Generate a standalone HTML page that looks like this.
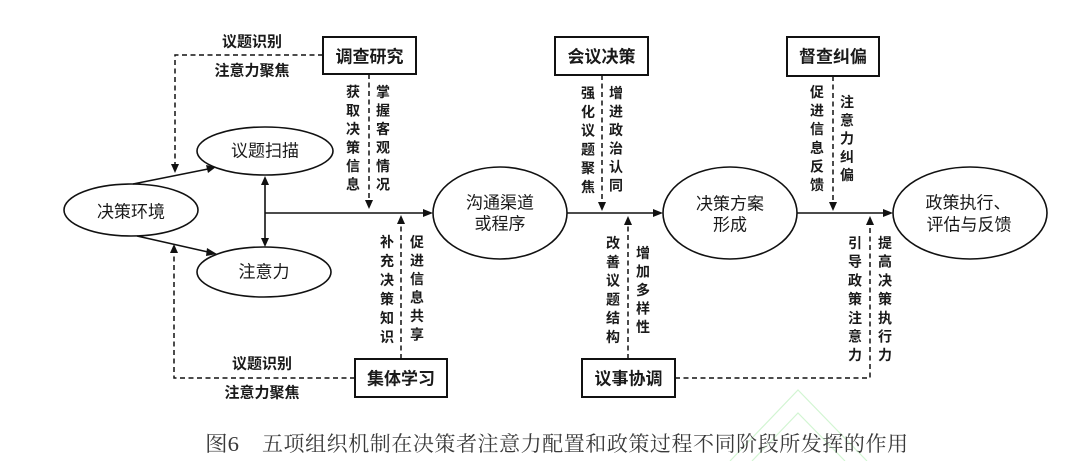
<!DOCTYPE html>
<html>
<head>
<meta charset="utf-8">
<style>
  html,body{margin:0;padding:0;background:#fff;}
  svg{display:block;}
  .t{font-family:"Liberation Sans","Noto Sans CJK SC",sans-serif;fill:#1a1a1a;}
  .e{font-size:17px;}
  .b{font-size:17px;font-weight:bold;}
  .s{font-size:14px;font-weight:bold;}
  .cap{font-family:"Liberation Serif","Noto Serif CJK SC",serif;font-size:21px;fill:#3a3a3a;}
</style>
</head>
<body>
<svg width="1080" height="461" viewBox="0 0 1080 461" xmlns="http://www.w3.org/2000/svg">
  <rect width="1080" height="461" fill="#fff"/>

  <!-- faint watermark -->
  <g stroke="#d2f5d2" stroke-width="1.2" fill="none">
    <polyline points="730,461 798,390 867,461"/>
    <polyline points="752,461 798,413 845,461"/>
  </g>

  <!-- ellipses -->
  <g fill="none" stroke="#111" stroke-width="1.6">
    <ellipse cx="131" cy="210" rx="67" ry="26"/>
    <ellipse cx="265" cy="151" rx="68" ry="24"/>
    <ellipse cx="264" cy="272" rx="67" ry="25"/>
    <ellipse cx="500" cy="213" rx="67" ry="46"/>
    <ellipse cx="730" cy="213" rx="67" ry="46"/>
    <ellipse cx="970" cy="213" rx="77" ry="46"/>
  </g>

  <!-- boxes -->
  <g fill="#fff" stroke="#111" stroke-width="2">
    <rect x="323" y="37" width="93" height="37"/>
    <rect x="555" y="37" width="93" height="38"/>
    <rect x="787" y="37" width="92" height="39"/>
    <rect x="355" y="359" width="92" height="38"/>
    <rect x="582" y="359" width="93" height="38"/>
  </g>

  <!-- solid lines -->
  <g stroke="#111" stroke-width="1.6" fill="none">
    <line x1="133" y1="184" x2="208" y2="169"/>
    <line x1="137" y1="236" x2="208" y2="252"/>
    <line x1="265" y1="184" x2="265" y2="239"/>
    <line x1="265" y1="213" x2="424" y2="213"/>
    <line x1="567" y1="213" x2="654" y2="213"/>
    <line x1="797" y1="213" x2="884" y2="213"/>
  </g>
  <g fill="#111">
    <polygon points="216,167 206,165 208,173"/>
    <polygon points="217,254 207,248 206,256"/>
    <polygon points="265,176 261,185 269,185"/>
    <polygon points="265,247 261,238 269,238"/>
    <polygon points="433,213 423,209 423,217"/>
    <polygon points="663,213 653,209 653,217"/>
    <polygon points="893,213 883,209 883,217"/>
  </g>

  <!-- dashed lines -->
  <g stroke="#111" stroke-width="1.5" fill="none" stroke-dasharray="5,3.5">
    <polyline points="323,55 175,55 175,165"/>
    <polyline points="355,378 174,378 174,252"/>
    <line x1="369" y1="74" x2="369" y2="201"/>
    <line x1="401" y1="359" x2="401" y2="223"/>
    <line x1="602" y1="75" x2="602" y2="203"/>
    <line x1="628" y1="359" x2="628" y2="224"/>
    <line x1="833" y1="76" x2="833" y2="203"/>
    <polyline points="675,378 870,378 870,224"/>
  </g>
  <g fill="#111">
    <polygon points="175,173 171,164 179,164"/>
    <polygon points="174,244 170,253 178,253"/>
    <polygon points="369,209 365,200 373,200"/>
    <polygon points="401,215 397,224 405,224"/>
    <polygon points="602,211 598,202 606,202"/>
    <polygon points="628,216 624,225 632,225"/>
    <polygon points="833,211 829,202 837,202"/>
    <polygon points="870,216 866,225 874,225"/>
  </g>

  <!-- ellipse labels -->
  <g class="t e" text-anchor="middle" dominant-baseline="central">
    <text x="131" y="212">决策环境</text>
    <text x="265" y="151">议题扫描</text>
    <text x="264" y="272">注意力</text>
    <text x="500" y="203">沟通渠道</text>
    <text x="500" y="224">或程序</text>
    <text x="730" y="204">决策方案</text>
    <text x="730" y="225">形成</text>
    <text x="968" y="203">政策执行、</text>
    <text x="969" y="225">评估与反馈</text>
  </g>

  <!-- box labels -->
  <g class="t b" text-anchor="middle" dominant-baseline="central">
    <text x="369.5" y="57">调查研究</text>
    <text x="601.5" y="57">会议决策</text>
    <text x="833" y="57">督查纠偏</text>
    <text x="401" y="379">集体学习</text>
    <text x="628.5" y="379">议事协调</text>
  </g>

  <!-- horizontal edge labels -->
  <g class="t s" text-anchor="middle" dominant-baseline="central">
    <text x="252" y="42" style="font-size:15px">议题识别</text>
    <text x="252" y="71" style="font-size:15px">注意力聚焦</text>
    <text x="262" y="364" style="font-size:15px">议题识别</text>
    <text x="262" y="393" style="font-size:15px">注意力聚焦</text>
  </g>

  <!-- vertical edge labels -->
  <g class="t s" text-anchor="middle" dominant-baseline="central">
    <text x="353" y="92">获</text><text x="353" y="110.5">取</text><text x="353" y="129">决</text><text x="353" y="147.5">策</text><text x="353" y="166">信</text><text x="353" y="184.5">息</text>
    <text x="383" y="92">掌</text><text x="383" y="110.5">握</text><text x="383" y="129">客</text><text x="383" y="147.5">观</text><text x="383" y="166">情</text><text x="383" y="184.5">况</text>
    <text x="387" y="242">补</text><text x="387" y="261">充</text><text x="387" y="280">决</text><text x="387" y="299">策</text><text x="387" y="318">知</text><text x="387" y="337">识</text>
    <text x="417" y="242">促</text><text x="417" y="260.5">进</text><text x="417" y="279">信</text><text x="417" y="297.5">息</text><text x="417" y="316">共</text><text x="417" y="334.5">享</text>
    <text x="588" y="93">强</text><text x="588" y="111.8">化</text><text x="588" y="130.6">议</text><text x="588" y="149.4">题</text><text x="588" y="168.2">聚</text><text x="588" y="187">焦</text>
    <text x="616" y="93">增</text><text x="616" y="111.5">进</text><text x="616" y="130">政</text><text x="616" y="148.5">治</text><text x="616" y="167">认</text><text x="616" y="185.5">同</text>
    <text x="613" y="243">改</text><text x="613" y="261.8">善</text><text x="613" y="280.6">议</text><text x="613" y="299.4">题</text><text x="613" y="318.2">结</text><text x="613" y="337">构</text>
    <text x="643" y="253">增</text><text x="643" y="271.5">加</text><text x="643" y="290">多</text><text x="643" y="308.5">样</text><text x="643" y="327">性</text>
    <text x="817" y="92">促</text><text x="817" y="110.6">进</text><text x="817" y="129.2">信</text><text x="817" y="147.8">息</text><text x="817" y="166.4">反</text><text x="817" y="185">馈</text>
    <text x="847" y="102">注</text><text x="847" y="120.3">意</text><text x="847" y="138.6">力</text><text x="847" y="156.9">纠</text><text x="847" y="175.2">偏</text>
    <text x="855" y="243">引</text><text x="855" y="261.7">导</text><text x="855" y="280.4">政</text><text x="855" y="299.1">策</text><text x="855" y="317.8">注</text><text x="855" y="336.5">意</text><text x="855" y="355.2">力</text>
    <text x="885" y="243">提</text><text x="885" y="261.7">高</text><text x="885" y="280.4">决</text><text x="885" y="299.1">策</text><text x="885" y="317.8">执</text><text x="885" y="336.5">行</text><text x="885" y="355.2">力</text>
  </g>

  <!-- caption -->
  <text class="cap" x="205" y="451" textLength="34" lengthAdjust="spacingAndGlyphs">图6</text>
  <text class="cap" x="262" y="451" textLength="646" lengthAdjust="spacing">五项组织机制在决策者注意力配置和政策过程不同阶段所发挥的作用</text>
</svg>
</body>
</html>
